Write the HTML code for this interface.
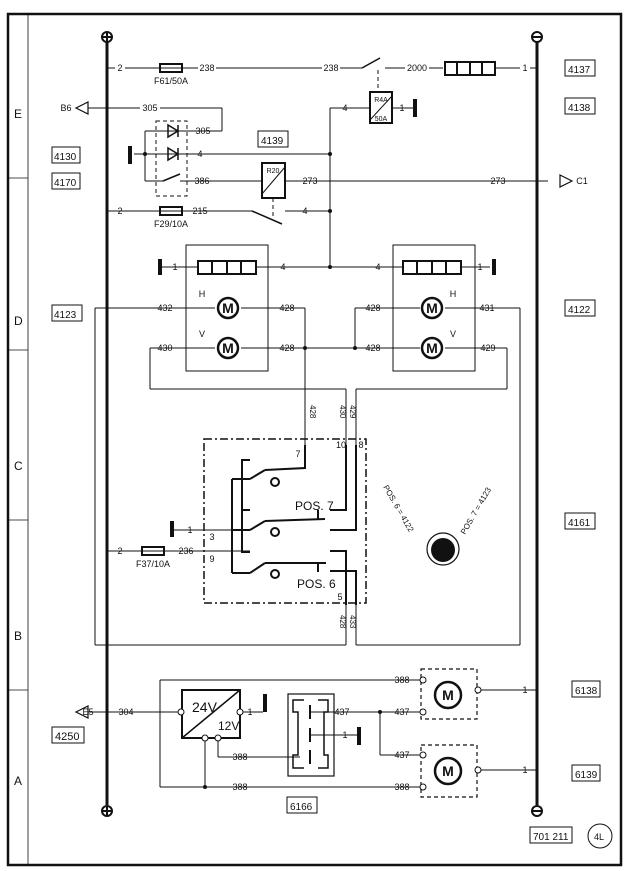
<!DOCTYPE html>
<html><head><meta charset="utf-8"><style>
html,body{margin:0;padding:0;background:#fff}
svg{display:block}
text{font-family:"Liberation Sans",sans-serif;fill:#111}
</style></head><body>
<svg width="628" height="871" viewBox="0 0 628 871" xmlns="http://www.w3.org/2000/svg" stroke="#111" fill="none">
<!-- frame -->
<rect x="8" y="14" width="613" height="851" stroke-width="2.5"/>
<line x1="28" y1="14" x2="28" y2="865" stroke-width="0.8"/>
<g stroke-width="0.8">
<line x1="8" y1="178" x2="28" y2="178"/><line x1="8" y1="350" x2="28" y2="350"/>
<line x1="8" y1="520" x2="28" y2="520"/><line x1="8" y1="690" x2="28" y2="690"/>
</g>
<g font-size="12" stroke="none"><text x="14" y="118">E</text><text x="14" y="325">D</text><text x="14" y="470">C</text><text x="14" y="640">B</text><text x="14" y="785">A</text></g>

<!-- buses -->
<line x1="107" y1="42" x2="107" y2="805" stroke-width="3"/>
<line x1="537" y1="42" x2="537" y2="805" stroke-width="3"/>
<g stroke-width="2"><circle cx="107" cy="37" r="5" fill="#fff"/><line x1="102" y1="37" x2="112" y2="37"/><line x1="107" y1="32" x2="107" y2="42"/>
<circle cx="107" cy="811" r="5" fill="#fff"/><line x1="102" y1="811" x2="112" y2="811"/><line x1="107" y1="806" x2="107" y2="816"/>
<circle cx="537" cy="37" r="5" fill="#fff"/><line x1="532" y1="37" x2="542" y2="37"/>
<circle cx="537" cy="811" r="5" fill="#fff"/><line x1="532" y1="811" x2="542" y2="811"/></g>

<g stroke-width="1">
<!-- row 68 -->
<line x1="107" y1="68" x2="355" y2="68"/><rect x="160" y="64" width="22" height="8" stroke-width="2"/>
<line x1="355" y1="68" x2="362" y2="68"/><line x1="362" y1="68" x2="380" y2="58" stroke-width="1.5"/>
<line x1="385" y1="68" x2="443" y2="68"/><rect x="445" y="62" width="50" height="13" stroke-width="2"/>
<line x1="457" y1="62" x2="457" y2="75" stroke-width="2"/><line x1="470" y1="62" x2="470" y2="75" stroke-width="2"/><line x1="482" y1="62" x2="482" y2="75" stroke-width="2"/>
<line x1="495" y1="68" x2="537" y2="68"/>
<line x1="378" y1="70" x2="378" y2="92" stroke-dasharray="4,3"/>
<!-- relay R4A -->
<rect x="370" y="92" width="22" height="31" stroke-width="2"/><line x1="370" y1="120" x2="392" y2="96"/>
<line x1="330" y1="108" x2="370" y2="108"/><line x1="392" y1="108" x2="413" y2="108"/>
<line x1="330" y1="108" x2="330" y2="267"/>
<!-- B6 305 -->
<line x1="88" y1="108" x2="222" y2="108"/><line x1="222" y1="108" x2="222" y2="131"/><line x1="190" y1="131" x2="222" y2="131"/>
<!-- diodes -->
<rect x="156" y="121" width="31" height="75" stroke-dasharray="4,3"/>
<line x1="134" y1="154" x2="330" y2="154"/><line x1="145" y1="131" x2="145" y2="181"/><line x1="145" y1="131" x2="190" y2="131"/>
<line x1="145" y1="181" x2="163" y2="181"/><line x1="163" y1="181" x2="180" y2="174" stroke-width="1.5"/><line x1="180" y1="181" x2="262" y2="181"/>
<line x1="285" y1="181" x2="548" y2="181"/>
<!-- relay R20 -->
<rect x="262" y="163" width="23" height="35" stroke-width="2"/><line x1="262" y1="194" x2="285" y2="167"/>
<line x1="273" y1="198" x2="273" y2="218" stroke-dasharray="4,3"/>
<!-- row 211 -->
<line x1="107" y1="211" x2="252" y2="211"/><rect x="160" y="207" width="22" height="8" stroke-width="2"/>
<line x1="252" y1="211" x2="282" y2="224" stroke-width="1.5"/><line x1="285" y1="211" x2="330" y2="211"/>
<!-- relay bars row 267 -->
<rect x="186" y="245" width="82" height="126"/><rect x="393" y="245" width="82" height="126"/>
<line x1="160" y1="267" x2="198" y2="267"/><rect x="198" y="261" width="58" height="13" stroke-width="2"/>
<line x1="212" y1="261" x2="212" y2="274" stroke-width="2"/><line x1="227" y1="261" x2="227" y2="274" stroke-width="2"/><line x1="241" y1="261" x2="241" y2="274" stroke-width="2"/>
<line x1="256" y1="267" x2="403" y2="267"/><rect x="403" y="261" width="58" height="13" stroke-width="2"/>
<line x1="417" y1="261" x2="417" y2="274" stroke-width="2"/><line x1="432" y1="261" x2="432" y2="274" stroke-width="2"/><line x1="446" y1="261" x2="446" y2="274" stroke-width="2"/>
<line x1="461" y1="267" x2="490" y2="267"/>
<!-- motor lines -->
<line x1="95" y1="308" x2="215" y2="308"/><line x1="241" y1="308" x2="305" y2="308"/><line x1="305" y1="308" x2="305" y2="445"/>
<line x1="150" y1="348" x2="215" y2="348"/><line x1="241" y1="348" x2="420" y2="348"/><line x1="150" y1="348" x2="150" y2="389"/>
<line x1="355" y1="308" x2="420" y2="308"/><line x1="355" y1="308" x2="355" y2="348"/>
<line x1="445" y1="308" x2="520" y2="308"/><line x1="520" y1="308" x2="520" y2="645"/>
<line x1="445" y1="348" x2="507" y2="348"/><line x1="507" y1="348" x2="507" y2="389"/>
<line x1="150" y1="389" x2="346" y2="389"/><line x1="356" y1="389" x2="507" y2="389"/>
<line x1="346" y1="389" x2="346" y2="445"/><line x1="356" y1="389" x2="356" y2="445"/>
<line x1="95" y1="308" x2="95" y2="645"/><line x1="95" y1="645" x2="346" y2="645"/><line x1="356" y1="645" x2="520" y2="645"/>
<line x1="346" y1="605" x2="346" y2="645"/><line x1="356" y1="605" x2="356" y2="645"/>
</g>
<g stroke-width="2.5">
<circle cx="228" cy="308" r="10" fill="#fff"/><circle cx="228" cy="348" r="10" fill="#fff"/>
<circle cx="432" cy="308" r="10" fill="#fff"/><circle cx="432" cy="348" r="10" fill="#fff"/>
</g>
<g font-size="14" font-weight="bold" stroke="none" text-anchor="middle"><text x="228" y="313">M</text><text x="228" y="353">M</text><text x="432" y="313">M</text><text x="432" y="353">M</text></g>
<!-- diodes glyphs -->
<g stroke-width="1.5"><path d="M168 125 L178 131 L168 137 Z"/><line x1="178" y1="125" x2="178" y2="137"/>
<path d="M168 148 L178 154 L168 160 Z"/><line x1="178" y1="148" x2="178" y2="160"/></g>
<!-- grounds -->
<g fill="#111" stroke="none">
<rect x="128" y="146" width="4" height="18"/><rect x="413" y="99" width="4" height="18"/>
<rect x="158" y="259" width="4" height="16"/><rect x="492" y="259" width="4" height="16"/>
<rect x="170" y="521" width="4" height="16"/><rect x="263" y="694" width="4" height="18"/><rect x="357" y="727" width="4" height="18"/>
<circle cx="330" cy="154" r="2"/><circle cx="330" cy="211" r="2"/><circle cx="330" cy="267" r="2"/><circle cx="305" cy="348" r="2"/><circle cx="355" cy="348" r="2"/><circle cx="145" cy="154" r="2"/>
<circle cx="380" cy="712" r="2"/><circle cx="205" cy="787" r="2"/>
<circle cx="443" cy="550" r="12"/>
</g>
<circle cx="443" cy="549" r="16" stroke-width="1.2"/>
<!-- switch box -->
<rect x="204" y="439" width="162" height="164" stroke-width="1.5" stroke-dasharray="8,3,2,3"/>
<g stroke-width="2">
<polyline points="250,460 242,460 242,552 250,552"/><polyline points="250,510 242,510"/>
<line x1="232" y1="479" x2="232" y2="573"/>
<line x1="232" y1="479" x2="250" y2="479"/><line x1="250" y1="479" x2="265" y2="470"/><polyline points="265,470 305,468 305,445"/>
<line x1="232" y1="530" x2="250" y2="530"/><line x1="250" y1="530" x2="265" y2="521"/><line x1="265" y1="521" x2="325" y2="519"/>
<line x1="232" y1="573" x2="250" y2="573"/><line x1="250" y1="573" x2="265" y2="563"/><line x1="265" y1="563" x2="326" y2="563"/>
<polyline points="330,510 346,510 346,445"/><polyline points="330,530 356,530 356,445"/>
<polyline points="330,551 346,551 346,605"/><polyline points="330,571 356,571 356,605"/>
<line x1="318" y1="519" x2="318" y2="510"/><line x1="318" y1="563" x2="318" y2="572"/>
</g>
<g stroke-width="2" fill="#fff"><circle cx="275" cy="482" r="4"/><circle cx="275" cy="532" r="4"/><circle cx="275" cy="574" r="4"/></g>
<line x1="174" y1="530" x2="232" y2="530"/><line x1="107" y1="551" x2="250" y2="551"/>
<rect x="142" y="547" width="22" height="8" stroke-width="2"/>
<!-- bottom section -->
<g stroke-width="1">
<line x1="88" y1="712" x2="180" y2="712"/>
<line x1="160" y1="680" x2="420" y2="680"/><line x1="160" y1="680" x2="160" y2="787"/><line x1="160" y1="787" x2="420" y2="787"/>
<line x1="205" y1="738" x2="205" y2="787"/><line x1="218" y1="738" x2="218" y2="757"/><line x1="218" y1="757" x2="300" y2="757"/>
<line x1="240" y1="712" x2="263" y2="712"/>
<line x1="310" y1="712" x2="420" y2="712"/><line x1="380" y1="712" x2="380" y2="755"/><line x1="380" y1="755" x2="420" y2="755"/>
<line x1="310" y1="735" x2="357" y2="735"/>
<line x1="480" y1="690" x2="537" y2="690"/><line x1="480" y1="770" x2="537" y2="770"/>
<rect x="288" y="694" width="46" height="82" stroke-width="1.2"/>
<rect x="421" y="669" width="56" height="50" stroke-dasharray="4,3" stroke-width="1.2"/>
<rect x="421" y="745" width="56" height="52" stroke-dasharray="4,3" stroke-width="1.2"/>
</g>
<rect x="182" y="690" width="58" height="48" stroke-width="2"/><line x1="182" y1="738" x2="240" y2="690" stroke-width="1.5"/>
<polyline points="304,700 293,700 293,712 298,712 298,755 293,755 293,768 304,768" stroke-width="1.5"/>
<polyline points="318,700 328,700 328,712 324,712 324,755 328,755 328,768 318,768" stroke-width="1.5"/>
<g stroke-width="2"><line x1="310" y1="705" x2="310" y2="719"/><line x1="310" y1="728" x2="310" y2="742"/><line x1="310" y1="750" x2="310" y2="764"/></g>
<g stroke-width="2.5"><circle cx="448" cy="695" r="13" fill="#fff"/><circle cx="448" cy="771" r="13" fill="#fff"/></g>
<g stroke-width="1" fill="#fff"><circle cx="181" cy="712" r="3"/><circle cx="240" cy="712" r="3"/><circle cx="205" cy="738" r="3"/><circle cx="218" cy="738" r="3"/>
<circle cx="423" cy="680" r="3"/><circle cx="423" cy="712" r="3"/><circle cx="423" cy="755" r="3"/><circle cx="423" cy="787" r="3"/><circle cx="478" cy="690" r="3"/><circle cx="478" cy="770" r="3"/></g>
<g font-size="14" font-weight="bold" stroke="none" text-anchor="middle"><text x="448" y="700">M</text><text x="448" y="776">M</text></g>
<!-- arrows -->
<g stroke-width="1.2" fill="#fff"><path d="M76 108 L88 102 L88 114 Z"/><path d="M560 175 L572 181 L560 187 Z"/><path d="M76 712 L88 706 L88 718 Z"/></g>
<!-- boxes -->
<g stroke-width="1"><rect x="565" y="60" width="30" height="16"/><rect x="565" y="98" width="30" height="16"/><rect x="258" y="131" width="30" height="16"/>
<rect x="52" y="147" width="28" height="16"/><rect x="52" y="173" width="28" height="16"/><rect x="52" y="305" width="30" height="16"/><rect x="565" y="300" width="30" height="16"/>
<rect x="565" y="513" width="30" height="16"/><rect x="52" y="727" width="32" height="16"/><rect x="572" y="681" width="28" height="16"/><rect x="572" y="765" width="28" height="16"/>
<rect x="287" y="797" width="30" height="16"/><rect x="530" y="827" width="42" height="16"/><circle cx="600" cy="836" r="12"/></g>
<g font-size="10" stroke="none">
<text x="568" y="73">4137</text><text x="568" y="111">4138</text><text x="261" y="144">4139</text><text x="54" y="160">4130</text><text x="54" y="186">4170</text>
<text x="54" y="318">4123</text><text x="568" y="313">4122</text><text x="568" y="526">4161</text><text x="55" y="740" font-size="11">4250</text><text x="575" y="694">6138</text><text x="575" y="778">6139</text>
<text x="290" y="810">6166</text><text x="533" y="840">701 211</text><text x="594" y="840" font-size="9">4L</text>
</g>
<g font-size="9" stroke="none" text-anchor="middle" style="paint-order:stroke" >
<g fill="#111">
<rect x="115" y="62" width="10" height="11" fill="#fff"/><text x="120" y="71">2</text>
<text x="171" y="84">F61/50A</text><rect x="198" y="62" width="18" height="11" fill="#fff"/><text x="207" y="71">238</text>
<rect x="322" y="62" width="18" height="11" fill="#fff"/><text x="331" y="71">238</text><rect x="405" y="62" width="24" height="11" fill="#fff"/><text x="417" y="71">2000</text>
<rect x="520" y="62" width="10" height="11" fill="#fff"/><text x="525" y="71">1</text>
<text x="66" y="111">B6</text><rect x="140" y="102" width="20" height="11" fill="#fff"/><text x="150" y="111">305</text>
<text x="203" y="134">305</text><text x="200" y="157">4</text><text x="202" y="184">386</text><text x="310" y="184">273</text><text x="498" y="184">273</text><text x="582" y="184">C1</text>
<text x="345" y="111">4</text><text x="402" y="111">1</text><text x="381" y="102" font-size="7">R4A</text><text x="381" y="121" font-size="7">50A</text><text x="273" y="173" font-size="7">R20</text>
<text x="120" y="214">2</text><text x="171" y="227">F29/10A</text><text x="200" y="214">215</text><text x="305" y="214">4</text>
<text x="175" y="270">1</text><text x="283" y="270">4</text><text x="378" y="270">4</text><text x="480" y="270">1</text>
<text x="202" y="297">H</text><text x="202" y="337">V</text><text x="453" y="297">H</text><text x="453" y="337">V</text>
<text x="165" y="311">432</text><text x="287" y="311">428</text><text x="165" y="351">430</text><text x="287" y="351">428</text>
<text x="373" y="311">428</text><text x="487" y="311">431</text><text x="373" y="351">428</text><text x="488" y="351">429</text>
<text x="298" y="457">7</text><text x="341" y="448">10</text><text x="361" y="448">8</text><text x="190" y="533">1</text><text x="212" y="540">3</text><text x="212" y="562">9</text>
<text x="120" y="554">2</text><text x="153" y="567">F37/10A</text><text x="186" y="554">236</text><text x="340" y="600">5</text>
<text x="126" y="715">304</text><text x="88" y="715">E5</text><text x="250" y="715">1</text><text x="342" y="715">437</text><text x="402" y="715">437</text><text x="402" y="683">388</text>
<text x="402" y="758">437</text><text x="402" y="790">388</text><text x="240" y="760">388</text><text x="240" y="790">388</text><text x="345" y="738">1</text><text x="525" y="693">1</text><text x="525" y="773">1</text>
</g></g>
<g font-size="12" stroke="none"><text x="295" y="510">POS. 7</text><text x="297" y="588">POS. 6</text><text x="192" y="712" font-size="14">24V</text><text x="218" y="730" font-size="12">12V</text></g>
<g font-size="8" stroke="none">
<text transform="translate(310,405) rotate(90)">428</text><text transform="translate(340,405) rotate(90)">430</text><text transform="translate(350,405) rotate(90)">429</text>
<text transform="translate(340,615) rotate(90)">428</text><text transform="translate(350,615) rotate(90)">433</text>
<text transform="translate(383,487) rotate(60)">POS. 6 = 4122</text><text transform="translate(465,535) rotate(-60)">POS. 7 = 4123</text>
</g>
</svg>
</body></html>
